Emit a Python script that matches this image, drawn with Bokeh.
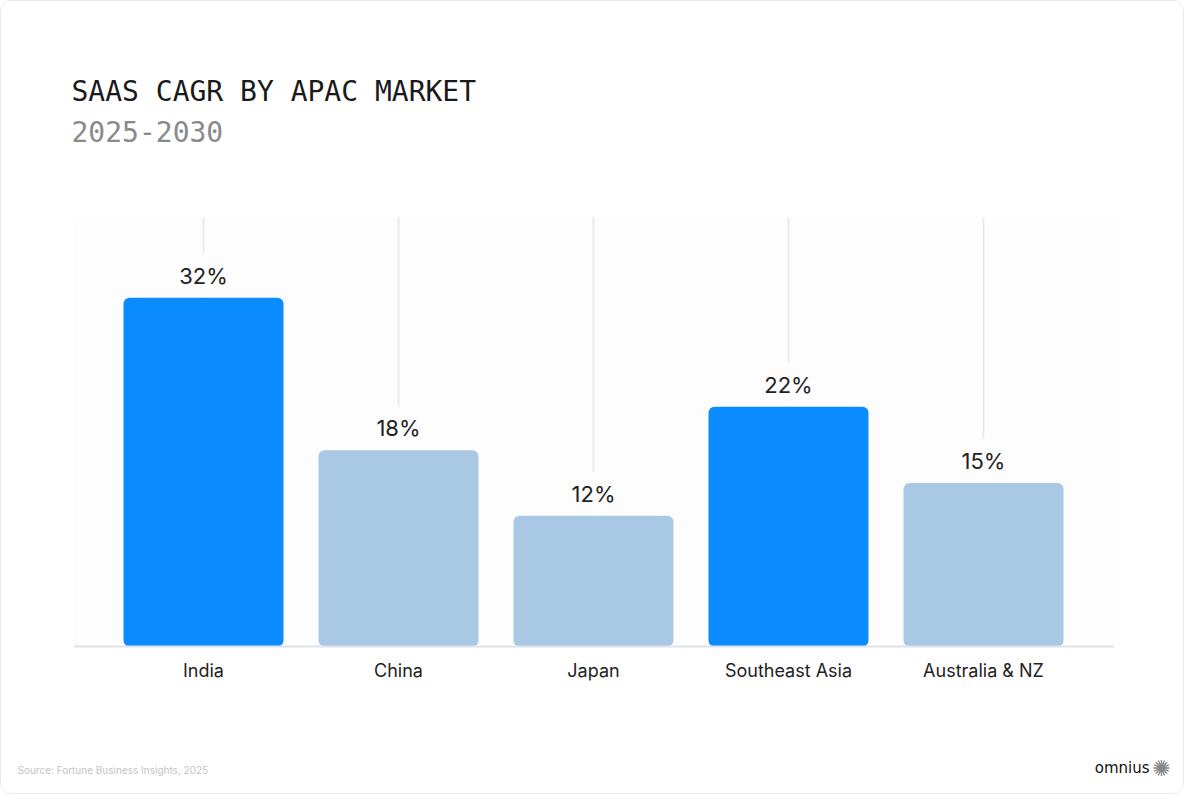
from bokeh.plotting import figure
from bokeh.models import Range1d, Label, ColumnDataSource, BoxAnnotation
from bokeh.core.properties import value
from bokeh.embed import file_html
from bokeh.resources import INLINE

categories = ["India", "China", "Japan", "Southeast Asia", "Australia & NZ"]
cagr = [32, 18, 12, 22, 15]
highlighted = ["India", "Southeast Asia"]

title_text = "SAAS CAGR BY APAC MARKET"
subtitle_text = "2025-2030"
source_text = "Source: Fortune Business Insights, 2025"
brand_text = "omnius"

HI = "#0a8cff"
LO = "#a8c8e3"
PLOT_BG = "#fdfdfe"

W, H = 1184, 794
# scale: 195 px per category, 10.9 px per percentage point
X0_PX, Y0_PX = 202, 149          # pixel position of the first category / zero line
UNIT_X, UNIT_Y = 195.0, 10.9
PAD = 0.6667                     # plot-area padding beyond first/last category
Y_TOP = 39.36                    # top of plot area (percentage points)

xs = list(range(len(categories)))
src = ColumnDataSource(dict(
    x=xs,
    val=cagr,
    top=[Y_TOP] * len(xs),
    zero=[0] * len(xs),
    label=[f"{v}%" for v in cagr],
    cat=categories,
    color=[HI if c in highlighted else LO for c in categories],
))

p = figure(width=W, height=H, output_backend="svg", toolbar_location=None,
           x_range=Range1d(-X0_PX / UNIT_X, (W - X0_PX) / UNIT_X),
           y_range=Range1d(-Y0_PX / UNIT_Y, (H - Y0_PX) / UNIT_Y),
           min_border=0)
p.styles = {"border": "1px solid #e8e8e8", "border-radius": "12px",
            "overflow": "hidden", "box-sizing": "border-box"}
p.outline_line_color = None
p.background_fill_color = "white"
p.border_fill_color = "white"
p.xaxis.visible = False
p.yaxis.visible = False
p.grid.visible = False

# faint plot-area background
p.add_layout(BoxAnnotation(left=xs[0] - PAD, right=xs[-1] + PAD, bottom=0,
                           top=Y_TOP, fill_color=PLOT_BG, fill_alpha=1,
                           line_color=None, level="underlay"))

# vertical guide lines at each category
p.segment(x0="x", y0="zero", x1="x", y1="top", source=src,
          line_color="#e6e6e6", line_width=1.5)

# value labels (drawn before bars so bars sit on top of their background box)
p.text(x="x", y="val", text="label", source=src, text_align="center",
       text_baseline="alphabetic", y_offset=-22, text_font=value("Inter"),
       text_font_size="22px", text_color="#222222",
       background_fill_color=PLOT_BG, padding=9)

p.vbar(x="x", top="val", bottom=0, width=0.8205, source=src,
       fill_color="color", line_color=None, border_radius=6)

# baseline (x axis line)
p.segment(x0=[xs[0] - PAD], y0=[0], x1=[xs[-1] + PAD], y1=[0],
          line_color="#dde1ea", line_width=2)

# category labels
p.text(x="x", y="zero", text="cat", source=src, text_align="center",
       text_baseline="alphabetic", y_offset=24, text_font=value("Inter"),
       text_font_size="18px", text_color="#222222")

# titles and footer (screen units, origin bottom-left of the canvas)
p.add_layout(Label(x=70, y=688, x_units="screen", y_units="screen",
                   text=title_text, text_font="DejaVu Sans Mono",
                   text_font_size="28px", text_color="#1a1a1a"))
p.add_layout(Label(x=70, y=654, x_units="screen", y_units="screen",
                   text=subtitle_text, text_font="DejaVu Sans Mono",
                   text_font_size="28px", text_color="#8a8a8a"))
p.add_layout(Label(x=16, y=20, x_units="screen", y_units="screen",
                   text=source_text, text_font="Inter",
                   text_font_size="10px", text_color="#c4c4c4"))
p.add_layout(Label(x=1148, y=19, x_units="screen", y_units="screen",
                   text=brand_text, text_font="DejaVu Sans", text_align="right",
                   text_font_size="15px", text_color="#111111"))
p.add_layout(Label(x=1160, y=27, x_units="screen", y_units="screen",
                   text="\u273a", text_font="DejaVu Sans", text_align="center",
                   text_baseline="middle",
                   text_font_size="22px", text_color="#888888"))

open("out.html", "w").write(file_html(p, INLINE))
